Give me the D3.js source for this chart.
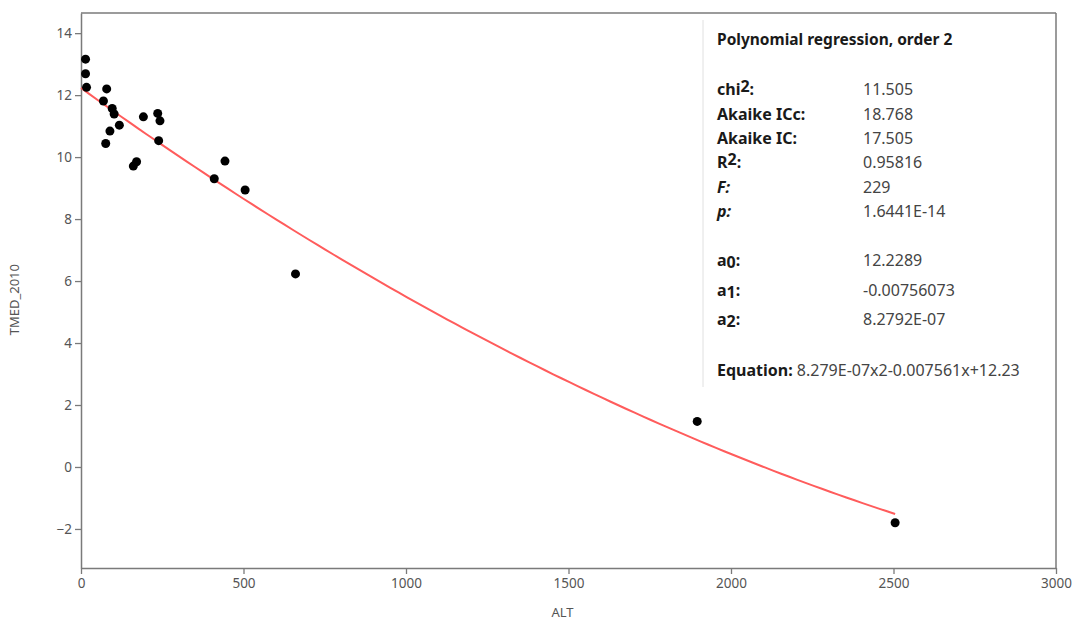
<!DOCTYPE html>
<html>
<head>
<meta charset="utf-8">
<script src="https://cdn.jsdelivr.net/npm/d3@7"></script>
<style>
  body { margin: 0; background: #fff; }
  svg { font-family: "Noto Sans", "Open Sans", sans-serif; }
</style>
</head>
<body>
<script>
// observed points
const alt = [14, 14, 17, 79, 69, 96, 102, 118, 89, 76, 192, 236, 243, 239, 171, 161, 443, 410, 505, 660, 1896, 2505];
const tmed = [13.16, 12.69, 12.25, 12.2, 11.81, 11.57, 11.39, 11.03, 10.84, 10.44, 11.3, 11.41, 11.17, 10.53, 9.85, 9.71, 9.87, 9.30, 8.94, 6.23, 1.47, -1.80];

// fitted coefficients a0, a1, a2
const coef = [12.2289, -0.00756073, 8.2792e-07];

const xTicks = [0, 500, 1000, 1500, 2000, 2500, 3000];
const yTicks = [-2, 0, 2, 4, 6, 8, 10, 12, 14];

const statLabels = ["chi|2|:", "Akaike ICc:", "Akaike IC:", "R|2|:", "F:", "p:"];
const statValues = ["11.505", "18.768", "17.505", "0.95816", "229", "1.6441E-14"];
const coefLabels = ["a", "a", "a"];
const coefValues = ["12.2289", "-0.00756073", "8.2792E-07"];
const equation = "8.279E-07x2-0.007561x+12.23";

const width = 1073, height = 624;
const margin = {left: 81, right: 17, top: 13, bottom: 56};

const svg = d3.select("body").append("svg")
  .attr("width", width)
  .attr("height", height);

const x = d3.scaleLinear().domain([0, 3000]).range([margin.left, width - margin.right]);
const y = d3.scaleLinear().domain([-3.26, 14.65]).range([height - margin.bottom, margin.top]);

const axisColor = "#7a7a7a";
const tickText = "#555";

// frame top + right
svg.append("line")
  .attr("x1", x(0)).attr("x2", x(3000))
  .attr("y1", margin.top).attr("y2", margin.top)
  .attr("stroke", axisColor).attr("stroke-width", 1.5);
svg.append("line")
  .attr("x1", x(3000)).attr("x2", x(3000))
  .attr("y1", margin.top).attr("y2", height - margin.bottom)
  .attr("stroke", axisColor).attr("stroke-width", 1.5);

const xAxis = svg.append("g")
  .attr("transform", `translate(0,${height - margin.bottom})`)
  .call(d3.axisBottom(x).tickValues(xTicks).tickFormat(d3.format("d")).tickSize(6).tickSizeOuter(0).tickPadding(4));
const yAxis = svg.append("g")
  .attr("transform", `translate(${margin.left},0)`)
  .call(d3.axisLeft(y).tickValues(yTicks).tickFormat(d3.format("d")).tickSize(6).tickSizeOuter(0).tickPadding(3));

[xAxis, yAxis].forEach(g => {
  g.select(".domain").attr("stroke", axisColor).attr("stroke-width", 1.5);
  g.selectAll(".tick line").attr("stroke", axisColor).attr("stroke-width", 1.3);
  g.selectAll(".tick text").attr("fill", tickText).style("font-size", "13.5px").style("font-family", "'Noto Sans', sans-serif");
});

// axis titles
svg.append("text")
  .attr("x", x(1500) - 6).attr("y", 617)
  .attr("text-anchor", "middle")
  .attr("fill", tickText).style("font-size", "13px")
  .text("ALT");
svg.append("text")
  .attr("transform", `translate(19,${y(5.4)}) rotate(-90)`)
  .attr("text-anchor", "middle")
  .attr("fill", tickText).style("font-size", "13px")
  .text("TMED_2010");

// info panel divider
svg.append("line")
  .attr("x1", 703).attr("x2", 703)
  .attr("y1", 20).attr("y2", 387)
  .attr("stroke", "#e0e0e0").attr("stroke-width", 1);

// regression curve
const maxAlt = d3.max(alt);
const curvePts = d3.range(0, 101).map(i => {
  const v = maxAlt * i / 100;
  return [v, coef[0] + coef[1] * v + coef[2] * v * v];
});
svg.append("path")
  .datum(curvePts)
  .attr("fill", "none")
  .attr("stroke", "#ff5c5c")
  .attr("stroke-width", 2)
  .attr("d", d3.line().x(d => x(d[0])).y(d => y(d[1])));

// points
svg.append("g").selectAll("circle")
  .data(alt.map((a, i) => [a, tmed[i]]))
  .join("circle")
  .attr("cx", d => x(d[0]))
  .attr("cy", d => y(d[1]))
  .attr("r", 4.5)
  .attr("fill", "#000");

// info text
const info = svg.append("g").attr("fill", "#1a1a1a").style("font-size", "16px");
const labX = 717, valX = 863;

info.append("text")
  .attr("x", labX).attr("y", 45)
  .style("font-weight", "bold").style("font-size", "15.5px")
  .text("Polynomial regression, order 2");

const statY = [95, 119.5, 143.5, 168, 193, 217];
statLabels.forEach((lab, i) => {
  const t = info.append("text").attr("x", labX).attr("y", statY[i]).style("font-weight", "bold");
  if (lab.includes("|")) {
    const parts = lab.split("|");
    t.append("tspan").text(parts[0]);
    t.append("tspan").attr("dy", -3).style("font-size", "16px").text(parts[1]);
    t.append("tspan").attr("dy", 3).text(parts[2]);
  } else if (lab === "F:" || lab === "p:") {
    t.style("font-style", "italic").text(lab);
  } else {
    t.text(lab);
  }
  info.append("text").attr("x", valX).attr("y", statY[i]).attr("fill", "#444").text(statValues[i]);
});

const coefY = [266, 296, 325];
coefLabels.forEach((lab, i) => {
  const t = info.append("text").attr("x", labX).attr("y", coefY[i]).style("font-weight", "bold");
  t.append("tspan").text(lab);
  t.append("tspan").attr("dy", 2).style("font-size", "16px").text(i);
  t.append("tspan").attr("dy", -2).text(":");
  info.append("text").attr("x", valX).attr("y", coefY[i]).attr("fill", "#444").text(coefValues[i]);
});

const eq = info.append("text").attr("x", labX).attr("y", 376);
eq.append("tspan").style("font-weight", "bold").text("Equation: ");
eq.append("tspan").attr("fill", "#444").text(equation);
</script>
</body>
</html>
